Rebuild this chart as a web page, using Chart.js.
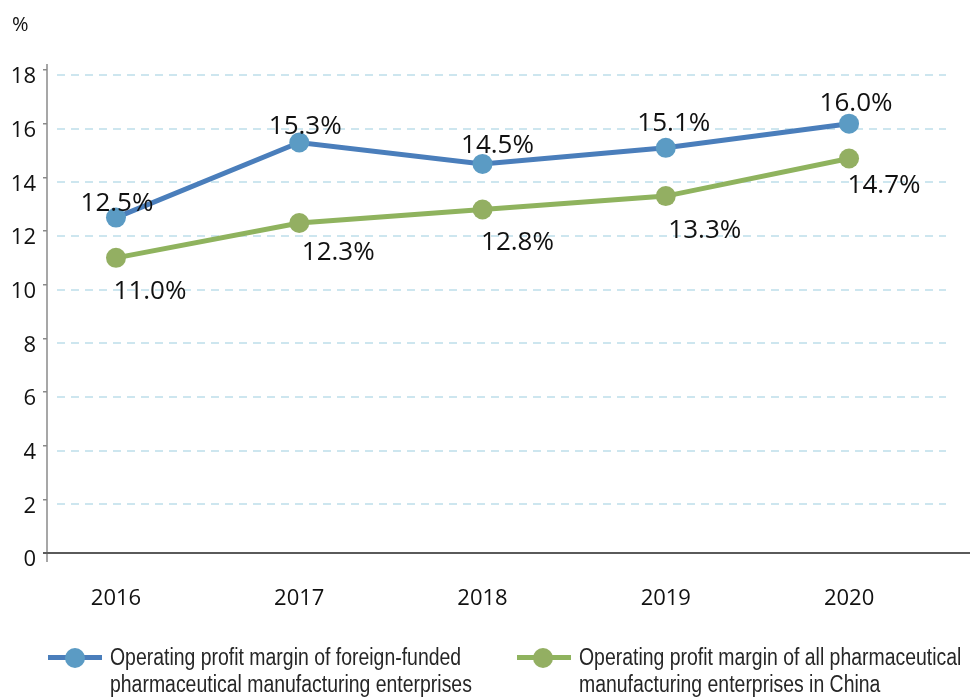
<!DOCTYPE html>
<html>
<head>
<meta charset="utf-8">
<title>Operating profit margin</title>
<script src="https://cdn.jsdelivr.net/npm/chart.js@4.4.1/dist/chart.umd.min.js"></script>
<style>
  body { margin: 0; background: #fff; overflow: hidden; }
  #wrap { position: relative; width: 970px; height: 698px; }
  canvas { display: block; }
  #unit { position: absolute; left: 12px; top: 10px; font: 20px "Open Sans", sans-serif; color: #111; }
  .key { position: absolute; top: 655px; width: 54px; height: 5px; }
  .key i { position: absolute; top: -7.5px; width: 20px; height: 20px; border-radius: 50%; }
  .leg { position: absolute; top: 643.5px; font: 23px "Liberation Sans", Arial, sans-serif; line-height: 27px;
         color: #262626; white-space: nowrap; transform: scaleX(0.845); transform-origin: left top; }
</style>
</head>
<body>
<div id="wrap">
  <canvas id="chart" width="970" height="698"></canvas>
  <div id="unit">%</div>
  <div class="key" style="left:48px;background:#4a7ebb"><i style="left:17px;background:#5b9bc4"></i></div>
  <div class="leg" style="left:110px">Operating profit margin of foreign-funded<br>pharmaceutical manufacturing enterprises</div>
  <div class="key" style="left:517px;background:#8fb35e"><i style="left:16px;background:#93af62"></i></div>
  <div class="leg" style="left:579px">Operating profit margin of all pharmaceutical<br>manufacturing enterprises in China</div>
</div>
<script>
// ---- data ----
const years = ['2016', '2017', '2018', '2019', '2020'];
const foreignMargin = [12.5, 15.3, 14.5, 15.1, 16.0];   // foreign-funded enterprises, %
const allMargin = [11.0, 12.3, 12.8, 13.3, 14.7];       // all enterprises in China, %
const yMax = 18;
const yStep = 2;

// ---- label placement (px, relative to each point) ----
const foreignDx = [1, 6, 15, 8, 7];
const foreignDy = [-14, -16, -18, -24, -20];
const allDx = [34, 39, 35, 39, 35];
const allDy = [34, 30, 33, 34, 27];

function toPoints(values) {
  return years.map((y, i) => ({ x: Number(y), y: values[i] }));
}

// dashed grid, axis lines
const frame = {
  id: 'frame',
  beforeDatasetsDraw(chart) {
    const { ctx, chartArea: a, scales: { y } } = chart;
    ctx.save();
    ctx.strokeStyle = '#cde6ef';
    ctx.lineWidth = 2;
    ctx.setLineDash([8, 6]);
    y.ticks.forEach(t => {
      if (t.value === 0) return;
      const py = Math.round(y.getPixelForValue(t.value)) + 5;
      ctx.beginPath();
      ctx.moveTo(a.left + 10, py);
      ctx.lineTo(a.right - 24, py);
      ctx.stroke();
    });
    ctx.setLineDash([]);
    ctx.strokeStyle = '#8a8a8a';
    ctx.lineWidth = 1.5;
    ctx.beginPath();
    ctx.moveTo(a.left, a.top - 6);
    ctx.lineTo(a.left, a.bottom + 9);
    ctx.stroke();
    ctx.strokeStyle = '#5a5a5a';
    ctx.lineWidth = 2;
    ctx.beginPath();
    ctx.moveTo(a.left - 4, a.bottom);
    ctx.lineTo(chart.width, a.bottom);
    ctx.stroke();
    ctx.restore();
  }
};

// value labels next to points
const valueLabels = {
  id: 'valueLabels',
  afterDatasetsDraw(chart) {
    const ctx = chart.ctx;
    ctx.save();
    ctx.font = '26px "Open Sans"';
    ctx.fillStyle = '#111';
    ctx.textAlign = 'center';
    ctx.textBaseline = 'middle';
    chart.data.datasets.forEach((ds, i) => {
      chart.getDatasetMeta(i).data.forEach((pt, j) => {
        ctx.fillText(ds.data[j].y.toFixed(1) + '%', pt.x + ds.labelDx[j], pt.y + ds.labelDy[j]);
      });
    });
    ctx.restore();
  }
};

new Chart(document.getElementById('chart'), {
  type: 'line',
  data: {
    datasets: [
      {
        label: 'Operating profit margin of foreign-funded pharmaceutical manufacturing enterprises',
        data: toPoints(foreignMargin),
        borderColor: '#4a7ebb',
        backgroundColor: '#5b9bc4',
        pointBackgroundColor: '#5b9bc4',
        borderWidth: 5,
        pointRadius: 10,
        pointBorderWidth: 0,
        labelDx: foreignDx,
        labelDy: foreignDy
      },
      {
        label: 'Operating profit margin of all pharmaceutical manufacturing enterprises in China',
        data: toPoints(allMargin),
        borderColor: '#8fb35e',
        backgroundColor: '#93af62',
        pointBackgroundColor: '#93af62',
        borderWidth: 5,
        pointRadius: 10,
        pointBorderWidth: 0,
        labelDx: allDx,
        labelDy: allDy
      }
    ]
  },
  options: {
    responsive: false,
    devicePixelRatio: 1,
    animation: false,
    layout: { autoPadding: false, padding: { top: 70, right: 0, bottom: 0, left: 0 } },
    plugins: { legend: { display: false }, tooltip: { enabled: false } },
    scales: {
      x: {
        type: 'linear',
        min: 2015.6235,
        max: 2020.66,
        afterFit: s => { s.height = 145; s.paddingLeft = 0; s.paddingRight = 0; },
        afterBuildTicks: s => { s.ticks = years.map(y => ({ value: Number(y) })); },
        grid: { display: false, drawTicks: false },
        border: { display: false },
        ticks: {
          callback: v => String(v),
          font: { family: 'Open Sans', size: 22 },
          color: '#111',
          padding: 33,
          maxRotation: 0
        }
      },
      y: {
        min: 0,
        max: yMax,
        afterFit: s => { s.width = 47; },
        grid: { drawOnChartArea: false, drawTicks: true, tickLength: 4, color: '#8a8a8a', lineWidth: 1.5 },
        border: { display: false },
        ticks: {
          stepSize: yStep,
          font: { family: 'Open Sans', size: 22 },
          color: '#111',
          padding: 7,
          labelOffset: 7
        }
      }
    }
  },
  plugins: [frame, valueLabels]
});
</script>
</body>
</html>
